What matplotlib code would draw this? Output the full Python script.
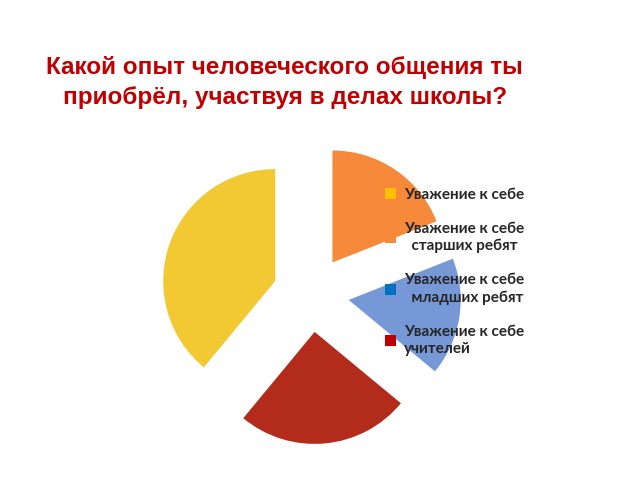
import matplotlib.pyplot as plt
from matplotlib.patches import Patch

# share of answers, slices clockwise from 12 o'clock
slice_names = ["старших ребят", "младших ребят", "учителей", "себе"]
slice_values = [19, 17, 25, 39]
slice_colors = ["#F68A3A", "#7698D6", "#B22B1B", "#F3C933"]

legend_labels = ["Уважение к себе",
                 "Уважение к себе\n  старших ребят",
                 "Уважение к себе\n  младших ребят",
                 "Уважение к себе\nучителей"]
legend_colors = ["#FFC000", "#F68A3A", "#0070C0", "#C00000"]

fig = plt.figure(figsize=(6.4, 4.8), dpi=100)
fig.patch.set_facecolor("white")

fig.text(0.445, 0.828, "Какой опыт человеческого общения ты\nприобрёл, участвуя в делах школы?",
         ha="center", va="center", fontsize=17.5, fontweight="bold", color="#C00000",
         family="Liberation Sans", linespacing=1.35)

ax = fig.add_axes([0.206, 0.0142, 0.56, 0.7467])
ax.pie(slice_values, colors=slice_colors, startangle=90, counterclock=False,
       explode=[0.34] * len(slice_values), radius=1)
ax.set_xlim(-1.6, 1.6)
ax.set_ylim(-1.6, 1.6)
ax.set_aspect("equal")
ax.axis("off")

handles = [Patch(facecolor=c, edgecolor="none") for c in legend_colors]
leg = fig.legend(handles, legend_labels, loc="upper left", bbox_to_anchor=(371 / 640, 1 - 174 / 480),
                 frameon=False, handlelength=0.75, handleheight=0.75, handletextpad=0.5,
                 labelspacing=1.3, prop={"family": "Lato", "size": 11, "weight": "bold"})
for t in leg.get_texts():
    t.set_color("#262626")
    t.set_linespacing(1.3)

fig.savefig("out.png", dpi=100, facecolor="white")
